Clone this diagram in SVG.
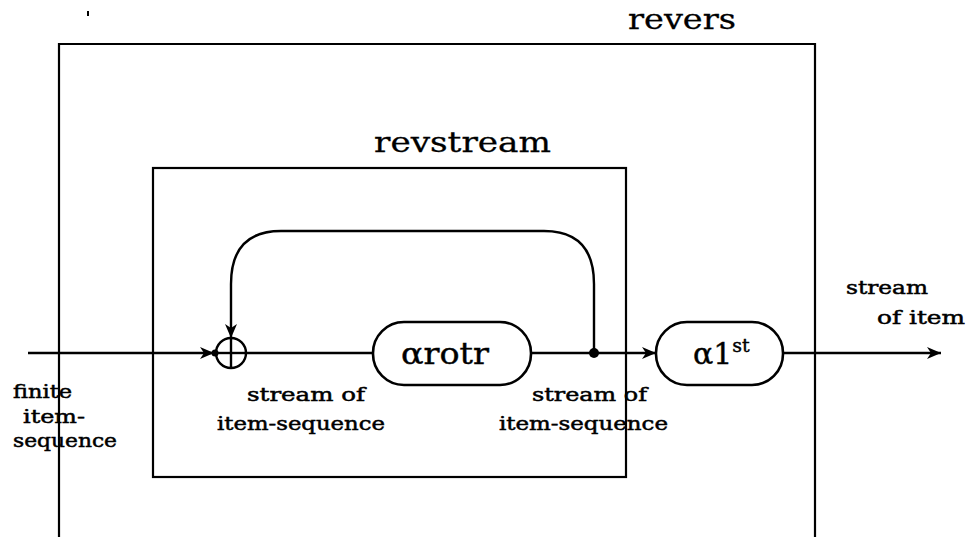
<svg xmlns="http://www.w3.org/2000/svg" width="970" height="537" viewBox="0 0 970 537">
<style>
  .ln { fill: none; stroke: #000; stroke-width: 2.4; }
  .box { fill: none; stroke: #000; stroke-width: 2.2; }
  .pill { fill: #fff; stroke: #000; stroke-width: 2.6; }
  .lbl { font-family: "DejaVu Serif", "Liberation Serif", serif; font-size: 19px; fill: #000; stroke: #000; stroke-width: 0.5; }
  .ttl { font-family: "DejaVu Serif", "Liberation Serif", serif; font-size: 28px; fill: #000; stroke: #000; stroke-width: 0.3; }
  .fn { font-family: "DejaVu Serif", "Liberation Serif", serif; font-size: 30px; fill: #000; stroke: #000; stroke-width: 0.4; }
</style>
<defs>
  <marker id="arr" viewBox="0 0 14 12" refX="14" refY="6" markerWidth="14" markerHeight="12" markerUnits="userSpaceOnUse" orient="auto">
    <path d="M0,0 L14,6 L0,12 L4,6 Z" fill="#000"/>
  </marker>
</defs>

<rect width="970" height="537" fill="#fff"/>
<rect x="87" y="11" width="2" height="5" fill="#000"/>

<!-- outer function box: revers (open at the bottom) -->
<g id="revers">
  <path class="box" d="M59,537 V44 H815 V537"/>
  <text class="ttl" x="628" y="29" textLength="108" lengthAdjust="spacingAndGlyphs">revers</text>
</g>

<!-- inner function box: revstream -->
<g id="revstream">
  <rect class="box" x="153" y="168" width="473" height="309"/>
  <text class="ttl" x="374" y="152" textLength="177" lengthAdjust="spacingAndGlyphs">revstream</text>
</g>

<!-- connectors -->
<g id="connectors">
  <line class="ln" x1="28" y1="353" x2="214" y2="353" marker-end="url(#arr)"/>
  <circle cx="215" cy="353" r="3.5" fill="#000"/>
  <line class="ln" x1="246" y1="353" x2="373" y2="353"/>
  <line class="ln" x1="531" y1="353" x2="656" y2="353" marker-end="url(#arr)"/>
  <line class="ln" x1="783" y1="353" x2="941" y2="353" marker-end="url(#arr)"/>
  <path class="ln" d="M594,353 V284 Q594,231 544,231 H281 Q231,231 231,284 V338" marker-end="url(#arr)"/>
  <circle cx="594" cy="353" r="5" fill="#000"/>
</g>

<!-- merge node -->
<g id="merge">
  <circle class="ln" cx="231" cy="353" r="15"/>
  <line class="ln" x1="231" y1="338" x2="231" y2="368"/>
  <line class="ln" x1="216" y1="353" x2="246" y2="353"/>
</g>

<g id="arotr">
  <rect class="pill" x="373" y="322" width="158" height="63" rx="31"/>
  <text class="fn" x="445" y="364" text-anchor="middle" textLength="88" lengthAdjust="spacingAndGlyphs">αrotr</text>
</g>

<g id="a1st">
  <rect class="pill" x="656" y="322" width="127" height="63" rx="31"/>
  <text class="fn" x="693" y="364">α1<tspan font-size="19" dy="-12">st</tspan></text>
</g>

<!-- stream labels -->
<g id="labels">
  <text class="lbl" x="13" y="398" textLength="59" lengthAdjust="spacingAndGlyphs">finite</text>
  <text class="lbl" x="23" y="423" textLength="62" lengthAdjust="spacingAndGlyphs">item-</text>
  <text class="lbl" x="13" y="447" textLength="104" lengthAdjust="spacingAndGlyphs">sequence</text>
  <text class="lbl" x="247" y="401" textLength="118" lengthAdjust="spacingAndGlyphs">stream of</text>
  <text class="lbl" x="217" y="430" textLength="168" lengthAdjust="spacingAndGlyphs">item-sequence</text>
  <text class="lbl" x="532" y="401" textLength="115" lengthAdjust="spacingAndGlyphs">stream of</text>
  <text class="lbl" x="499" y="430" textLength="169" lengthAdjust="spacingAndGlyphs">item-sequence</text>
  <text class="lbl" x="846" y="294" textLength="82" lengthAdjust="spacingAndGlyphs">stream</text>
  <text class="lbl" x="877" y="324" textLength="88" lengthAdjust="spacingAndGlyphs">of item</text>
</g>
</svg>
